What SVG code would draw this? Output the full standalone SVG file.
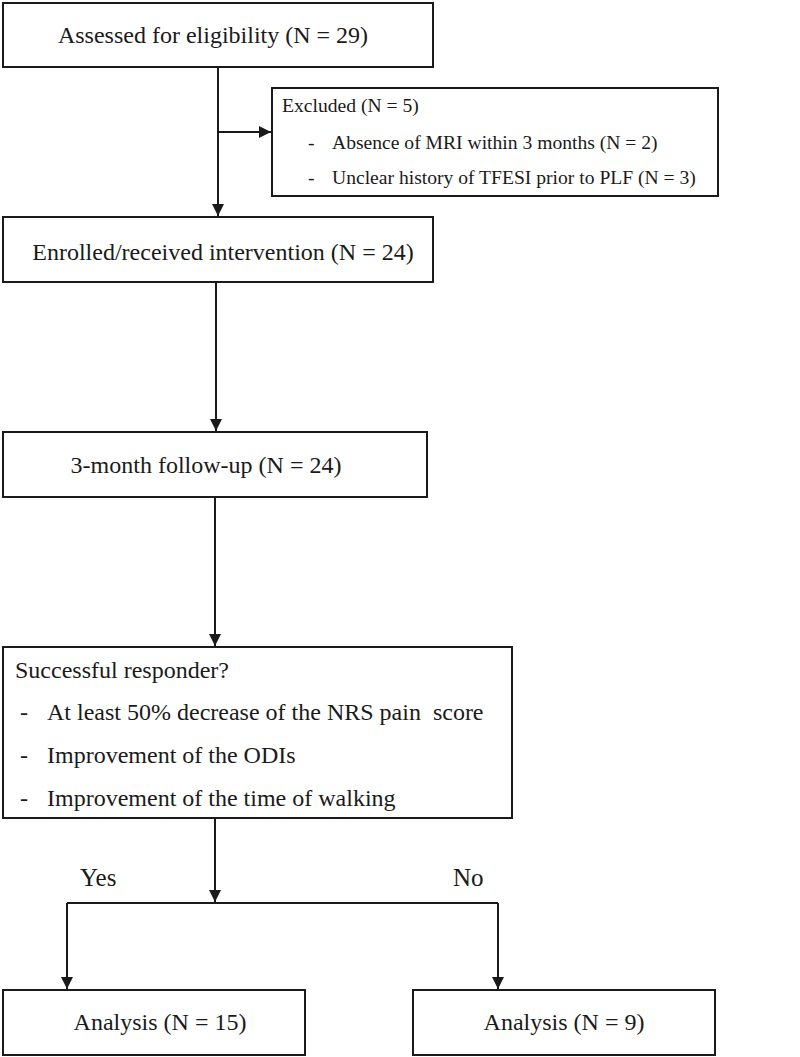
<svg xmlns="http://www.w3.org/2000/svg" width="800" height="1057" viewBox="0 0 800 1057">
<style>
  .box{fill:#fff;stroke:#1a1a1a;stroke-width:2}
  .t{font-family:"Liberation Serif","Times New Roman",serif;font-size:24px;fill:#1a1a1a}
  .s{font-family:"Liberation Serif","Times New Roman",serif;font-size:19.6px;fill:#1a1a1a}
  .c{fill:none;stroke:#1a1a1a;stroke-width:2}
</style>
<defs>
  <marker id="arr" markerUnits="userSpaceOnUse" markerWidth="12" markerHeight="12" refX="10" refY="5" orient="auto" viewBox="0 0 10 10">
    <path d="M0,0 L10,5 L0,10 z" fill="#1a1a1a"/>
  </marker>
</defs>
<rect width="800" height="1057" fill="#fff"/>
<g id="connectors">
  <path class="c" d="M218,67 V216" marker-end="url(#arr)"/>
  <path class="c" d="M218,132 H271" marker-end="url(#arr)"/>
  <path class="c" d="M216,282 V431" marker-end="url(#arr)"/>
  <path class="c" d="M215,497 V646" marker-end="url(#arr)"/>
  <path class="c" d="M215,818 V902" marker-end="url(#arr)"/>
  <path class="c" d="M67,903 H498"/>
  <path class="c" d="M67,903 V989" marker-end="url(#arr)"/>
  <path class="c" d="M498,903 V989" marker-end="url(#arr)"/>
  <text class="t" x="80" y="886" style="font-size:25px">Yes</text>
  <text class="t" x="453" y="886" style="font-size:25px">No</text>
</g>
<g id="assessed">
  <rect class="box" x="3" y="3" width="430" height="64"/>
  <text class="t" x="213" y="43" text-anchor="middle">Assessed for eligibility (N = 29)</text>
</g>
<g id="excluded">
  <rect class="box" x="272" y="88" width="446" height="108"/>
  <text class="s" x="282" y="112">Excluded (N = 5)</text>
  <text class="s" x="308" y="149">-</text>
  <text class="s" x="332" y="149">Absence of MRI within 3 months (N = 2)</text>
  <text class="s" x="308" y="184">-</text>
  <text class="s" x="332" y="184">Unclear history of TFESI prior to PLF (N = 3)</text>
</g>
<g id="enrolled">
  <rect class="box" x="3" y="217" width="430" height="65"/>
  <text class="t" x="223" y="260" text-anchor="middle">Enrolled/received intervention (N = 24)</text>
</g>
<g id="followup">
  <rect class="box" x="3" y="432" width="424" height="65"/>
  <text class="t" x="206" y="473" text-anchor="middle">3-month follow-up (N = 24)</text>
</g>
<g id="responder">
  <rect class="box" x="3" y="647" width="509" height="171"/>
  <text class="t" x="15" y="678">Successful responder?</text>
  <text class="t" x="20" y="720">-</text>
  <text class="t" x="47" y="720" style="white-space:pre">At least 50% decrease of the NRS pain  score</text>
  <text class="t" x="20" y="763">-</text>
  <text class="t" x="47" y="763">Improvement of the ODIs</text>
  <text class="t" x="20" y="806">-</text>
  <text class="t" x="47" y="806">Improvement of the time of walking</text>
</g>
<g id="analysis-yes">
  <rect class="box" x="3" y="990" width="302" height="65"/>
  <text class="t" x="160" y="1030" text-anchor="middle">Analysis (N = 15)</text>
</g>
<g id="analysis-no">
  <rect class="box" x="413" y="990" width="302" height="65"/>
  <text class="t" x="564" y="1030" text-anchor="middle">Analysis (N = 9)</text>
</g>
</svg>
